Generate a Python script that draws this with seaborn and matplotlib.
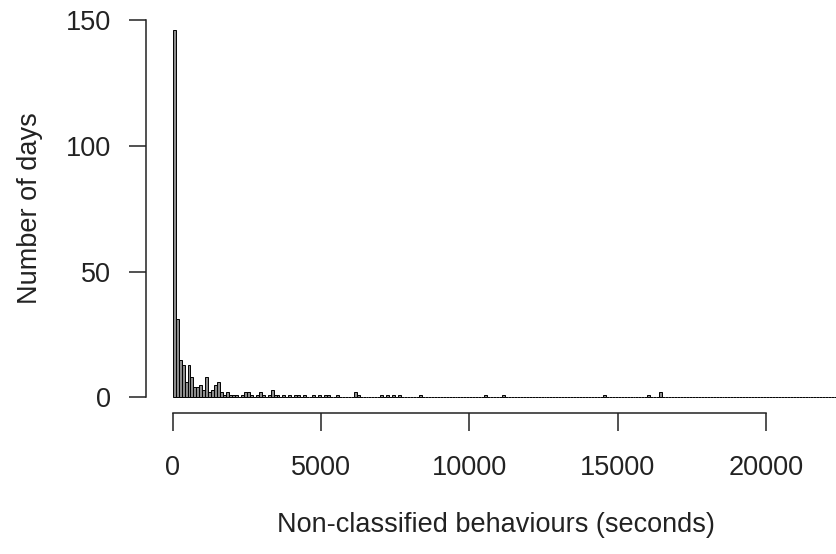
import numpy as np
import pandas as pd
import matplotlib
matplotlib.use("Agg")
import matplotlib.pyplot as plt
import seaborn as sns

# Histogram counts per 100-second bin (bin start in seconds -> number of days)
bin_start = [0, 100, 200, 300, 400, 500, 600, 700, 800, 900,
             1000, 1100, 1200, 1300, 1400, 1500, 1600, 1700, 1800, 1900,
             2000, 2100, 2300, 2400, 2500, 2600, 2800, 2900, 3000, 3200,
             3300, 3400, 3500, 3700, 3900, 4100, 4200, 4400, 4700, 4900,
             5100, 5200, 5500, 6100, 6200, 7000, 7200, 7400, 7600, 8300,
             10500, 11100, 14500, 16000, 16400]
days = [146, 31, 15, 13, 6, 13, 8, 4, 4, 5,
        3, 8, 2, 3, 5, 6, 2, 1, 2, 1,
        1, 1, 1, 2, 2, 1, 1, 2, 1, 1,
        3, 1, 1, 1, 1, 1, 1, 1, 1, 1,
        1, 1, 1, 2, 1, 1, 1, 1, 1, 1,
        1, 1, 1, 1, 2]
bin_width = 100
x_max = 23000
x_ticks = [0, 5000, 10000, 15000, 20000]
y_ticks = [0, 50, 100, 150]

df = pd.DataFrame({"mid": np.array(bin_start) + bin_width / 2, "days": days})

W, H = 837, 554
PT = 0.72  # points per pixel at 100 dpi
sns.set_style("ticks")
plt.rcParams["font.family"] = ["Liberation Sans", "DejaVu Sans"]
fig = plt.figure(figsize=(W / 100, H / 100), dpi=100)

x0, x1 = 172.7, 837
y0, y1 = 397.3, 20
ax = fig.add_axes([x0 / W, 1 - y0 / H, (x1 - x0) / W, (y0 - y1) / H])
sns.histplot(data=df, x="mid", weights="days", binwidth=bin_width,
             binrange=(0, x_max), ax=ax,
             color="#8c8c8c", edgecolor="black", linewidth=0.7, alpha=1)
for p in ax.patches:
    p.set_clip_on(False)

ax.set_xlim(0, (x1 - x0) / ((766 - x0) / 20000))
ax.set_ylim(0, 150)
ax.set_xticks(x_ticks)
ax.set_xticklabels([str(t) for t in x_ticks])
ax.set_yticks(y_ticks)
ax.set_yticklabels([str(t) for t in y_ticks])

for s in ["top", "right"]:
    ax.spines[s].set_visible(False)
ax.spines["left"].set_position(("outward", 26.7 * PT))
ax.spines["bottom"].set_position(("outward", 15.4 * PT))
ax.spines["left"].set_bounds(0, 150)
ax.spines["bottom"].set_bounds(0, 20000)
for s in ["left", "bottom"]:
    ax.spines[s].set_linewidth(1.1)
    ax.spines[s].set_color("#222222")
ax.tick_params(axis="both", length=17.5 * PT, width=1.1, labelsize=19.5,
               colors="#222222")
ax.tick_params(axis="x", pad=25 * PT)
ax.tick_params(axis="y", pad=17.6 * PT)

ax.set_xlabel("Non-classified behaviours (seconds)", fontsize=19.5, va="center",
              color="#222222")
ax.set_ylabel("Number of days", fontsize=19.5, va="center", color="#222222")
ax.xaxis.set_label_coords((495.5 - x0) / (x1 - x0), (y0 - 525) / (y0 - y1))
ax.yaxis.set_label_coords((30 - x0) / (x1 - x0), (y0 - 208) / (y0 - y1))

fig.savefig("out.png", dpi=100)
